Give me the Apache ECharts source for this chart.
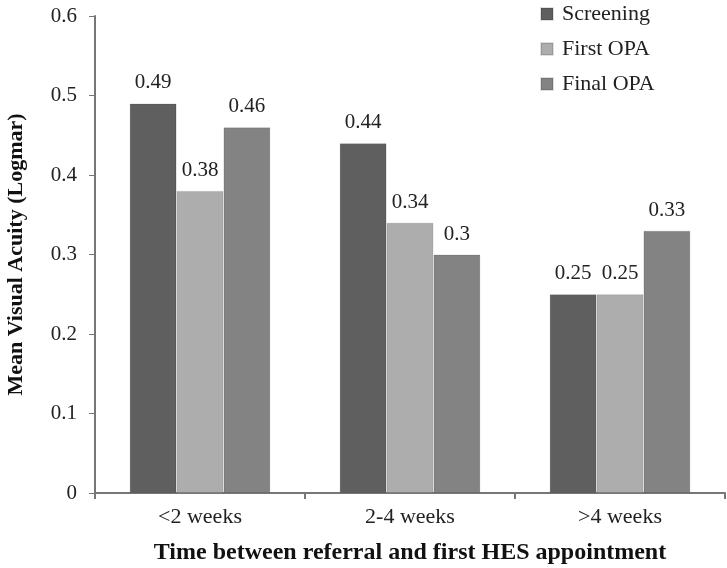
<!DOCTYPE html>
<html><head><meta charset="utf-8">
<script src="https://cdn.jsdelivr.net/npm/echarts@6/dist/echarts.min.js"></script>
<style>html,body{margin:0;padding:0;background:#fff}#c{width:727px;height:568px}</style>
</head><body><div id="c"></div>
<script>
const categories = ['<2 weeks', '2-4 weeks', '>4 weeks'];
const screening = [0.49, 0.44, 0.25];
const firstOPA = [0.38, 0.34, 0.25];
const finalOPA = [0.46, 0.3, 0.33];
const seriesNames = ['Screening', 'First OPA', 'Final OPA'];
const colors = ['#5f5f5f', '#adadad', '#838383'];
const font = 'Liberation Serif';
const chart = echarts.init(document.getElementById('c'));
const mk = (name, data, color) => ({
  name, type: 'bar', data, barGap: '0%', barCategoryGap: '33%',
  itemStyle: { color, borderColor: 'rgba(0,0,0,0.12)', borderWidth: 1 },
  label: { show: true, position: 'top', distance: 10, color: '#222', fontFamily: font, fontSize: 21 }
});
chart.setOption({
  animation: false,
  textStyle: { fontFamily: font },
  grid: { left: 95, right: 2, top: 16, bottom: 75, outerBoundsMode: 'none', containLabel: false },
  legend: {
    orient: 'vertical', left: 540, top: 3, padding: 0, itemWidth: 12, itemHeight: 12, itemGap: 13,
    icon: 'rect', textStyle: { fontFamily: font, fontSize: 22, color: '#222', padding: [0, 0, 0, 4] },
    data: seriesNames
  },
  xAxis: {
    type: 'category', data: categories,
    name: 'Time between referral and first HES appointment', nameLocation: 'middle', nameGap: 48,
    nameTextStyle: { fontFamily: font, fontSize: 24, fontWeight: 'bold', color: '#111' },
    axisLine: { lineStyle: { color: '#777', width: 2 } },
    axisTick: { show: true, length: 6, lineStyle: { color: '#777', width: 2 } },
    axisLabel: { fontFamily: font, fontSize: 22, color: '#222', margin: 13 }
  },
  yAxis: {
    type: 'value', min: 0, max: 0.6, interval: 0.1,
    name: 'Mean Visual Acuity (Logmar)', nameLocation: 'middle', nameGap: 68,
    nameTextStyle: { fontFamily: font, fontSize: 22, fontWeight: 'bold', color: '#111' },
    axisLine: { show: true, lineStyle: { color: '#777', width: 2 } },
    axisTick: { show: true, length: 6, lineStyle: { color: '#777', width: 1 } },
    splitLine: { show: false },
    axisLabel: { fontFamily: font, fontSize: 21, color: '#222', margin: 18, formatter: v => String(+v.toFixed(1)) }
  },
  series: [mk(seriesNames[0], screening, colors[0]), mk(seriesNames[1], firstOPA, colors[1]), mk(seriesNames[2], finalOPA, colors[2])]
});
</script></body></html>
